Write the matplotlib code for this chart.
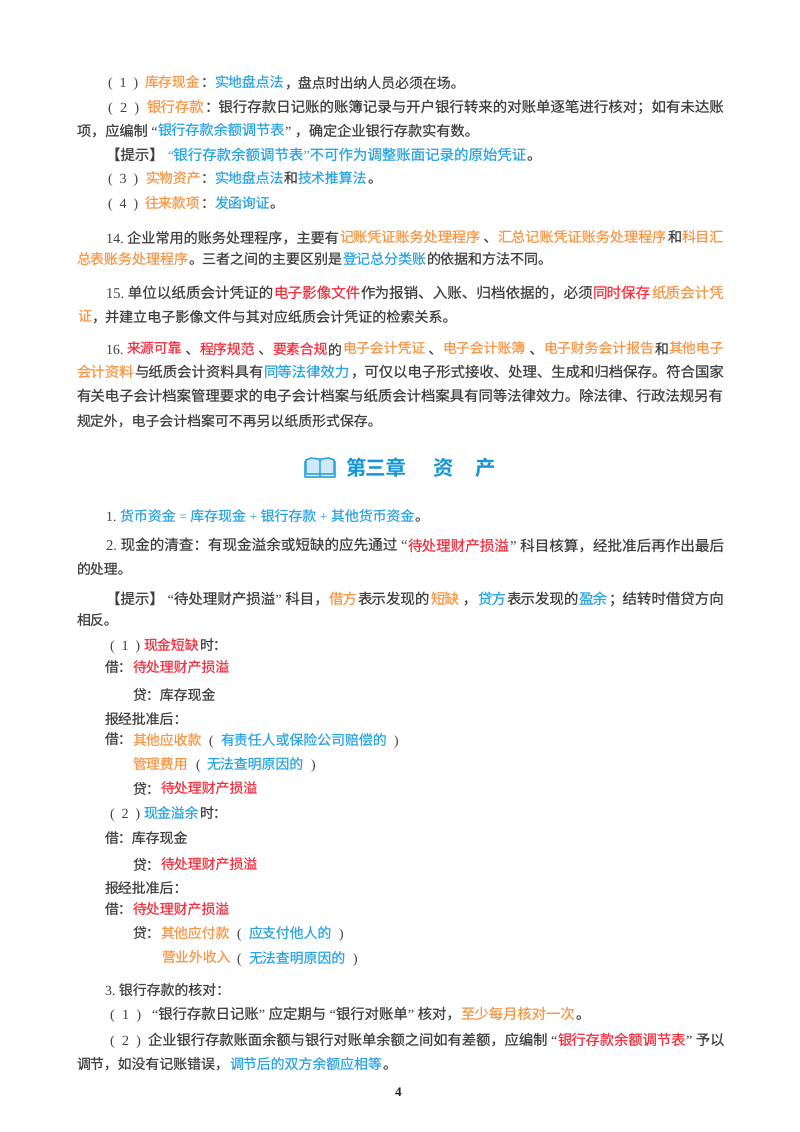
import re
import matplotlib
matplotlib.use("Agg")
import matplotlib.pyplot as plt
from matplotlib.patches import Polygon

plt.rcParams["text.hinting"] = "no_hinting"
plt.rcParams["text.hinting_factor"] = 8

# ---------- page content ----------
body_lines = [
    "(  1  )  [o]库存现金[/]：[b]实地盘点法[/]，盘点时出纳人员必须在场。",
    "(  2  )  [o]银行存款[/]：银行存款日记账的账簿记录与开户银行转来的对账单逐笔进行核对；如有未达账",
    "项，应编制 “[b]银行存款余额调节表[/]” ，确定企业银行存款实有数。",
    "【提示】 [b]“银行存款余额调节表”不可作为调整账面记录的原始凭证[/]。",
    "(  3  )  [o]实物资产[/]：[b]实地盘点法[/]和[b]技术推算法[/]。",
    "(  4  )  [o]往来款项[/]：[b]发函询证[/]。",
    "14. 企业常用的账务处理程序，主要有[o]记账凭证账务处理程序[/] 、[o]汇总记账凭证账务处理程序[/]和[o]科目汇[/]",
    "[o]总表账务处理程序[/]。三者之间的主要区别是[b]登记总分类账[/]的依据和方法不同。",
    "15. 单位以纸质会计凭证的[r]电子影像文件[/]作为报销、入账、归档依据的，必须[r]同时保存[/][o]纸质会计凭[/]",
    "[o]证[/]，并建立电子影像文件与其对应纸质会计凭证的检索关系。",
    "16. [r]来源可靠[/] 、[r]程序规范[/] 、[r]要素合规[/]的[o]电子会计凭证[/] 、[o]电子会计账簿[/] 、[o]电子财务会计报告[/]和[o]其他电子[/]",
    "[o]会计资料[/]与纸质会计资料具有[b]同等法律效力[/]，可仅以电子形式接收、处理、生成和归档保存。符合国家",
    "有关电子会计档案管理要求的电子会计档案与纸质会计档案具有同等法律效力。除法律、行政法规另有",
    "规定外，电子会计档案可不再另以纸质形式保存。",
    "1. [b]货币资金 = 库存现金 + 银行存款 + 其他货币资金[/]。",
    "2. 现金的清查：有现金溢余或短缺的应先通过 “[r]待处理财产损溢[/]” 科目核算，经批准后再作出最后",
    "的处理。",
    "【提示】 “待处理财产损溢” 科目，[o]借方[/]表示发现的[o]短缺[/] ，[b]贷方[/]表示发现的[b]盈余[/]；结转时借贷方向",
    "相反。",
    "(  1  ) [r]现金短缺[/]时：",
    "借：[r]待处理财产损溢[/]",
    "贷：库存现金",
    "报经批准后：",
    "借：[o]其他应收款[/]  (  [b]有责任人或保险公司赔偿的[/]  )",
    "[o]管理费用[/]  (  [b]无法查明原因的[/]  )",
    "贷：[r]待处理财产损溢[/]",
    "(  2  ) [b]现金溢余[/]时：",
    "借：库存现金",
    "贷：[r]待处理财产损溢[/]",
    "报经批准后：",
    "借：[r]待处理财产损溢[/]",
    "贷：[o]其他应付款[/]  (  [b]应支付他人的[/]  )",
    "[o]营业外收入[/]  (  [b]无法查明原因的[/]  )",
    "3. 银行存款的核对：",
    "(  1  )   “银行存款日记账” 应定期与 “银行对账单” 核对，[o]至少每月核对一次[/]。",
    "(  2  )  企业银行存款账面余额与银行对账单余额之间如有差额，应编制 “[r]银行存款余额调节表[/]” 予以",
    "调节，如没有记账错误，[b]调节后的双方余额应相等[/]。",
]
heading_parts = ["第三章", "资", "产"]
page_number = "4"

# ---------- layout (pixels on the page) ----------
line_y = [82, 107, 130, 155, 178, 203, 237, 259, 293, 316, 349, 372, 396, 420,
          516, 546, 569, 599, 621, 645, 668, 695, 720, 740, 764, 789, 813, 838,
          865, 889, 910, 933, 958, 990, 1014, 1040, 1064]
line_x0 = [108, 108, 77, 106, 108, 108, 106, 77, 106, 77, 106, 77, 77, 77,
           106, 106, 77, 106, 77, 110, 105, 133, 105, 105, 133, 133, 110, 105,
           133, 105, 105, 133, 161, 105, 110, 110, 77]
RIGHT = 724
line_x1 = {1: RIGHT, 6: RIGHT, 8: RIGHT, 10: RIGHT, 11: RIGHT, 12: RIGHT,
           15: RIGHT, 17: RIGHT, 35: RIGHT,
           2: 479, 3: 541, 7: 553, 9: 457, 34: 590}
heading_x = [345, 432, 475]
heading_y = 468

COLORS = {"k": "#404040", "o": "#f79646", "b": "#2aa4e2", "r": "#f2303f"}
HEAD_COLOR = "#1596d6"
ICON_EDGE = "#3aa8d8"
ICON_FILL = "#cfeaf6"
FONT = ["Liberation Serif", "Noto Sans CJK SC"]
BASE_PT = 10.0
BASELINE_SHIFT = 5.0
# advance widths in em for the characters served by the serif face; all others are full-width
SERIF_EM = {" ": .25, "(": .333, ")": .333, ".": .25, "“": .444, "”": .444,
            "=": .564, "+": .564}
SERIF_EM.update({d: .5 for d in "0123456789"})

fig = plt.figure(figsize=(8.0, 11.32), dpi=100, facecolor="white")
ax = fig.add_axes([0, 0, 1, 1])
ax.set_xlim(0, 800)
ax.set_ylim(1132, 0)
ax.axis("off")


def parse(markup):
    runs, pos = [], 0
    for m in re.finditer(r"\[([obr])\](.*?)\[/\]", markup):
        if m.start() > pos:
            runs.append((markup[pos:m.start()], "k"))
        runs.append((m.group(2), m.group(1)))
        pos = m.end()
    if pos < len(markup):
        runs.append((markup[pos:], "k"))
    return runs


def advance(s, size):
    return sum(SERIF_EM.get(c, 1.0) for c in s) * size * 100 / 72


for i, (markup, y, x0) in enumerate(zip(body_lines, line_y, line_x0)):
    runs = parse(markup)
    size = BASE_PT
    if i in line_x1:
        size = BASE_PT * (line_x1[i] - x0) / sum(advance(s, BASE_PT) for s, _ in runs)
    x = x0
    for s, key in runs:
        ax.text(x, y + BASELINE_SHIFT, s, family=FONT, fontsize=size,
                color=COLORS[key], va="baseline", ha="left")
        x += advance(s, size)

for s, x in zip(heading_parts, heading_x):
    ax.text(x, heading_y + 7, s, family="Noto Sans CJK SC", fontsize=14.6,
            color=HEAD_COLOR, va="baseline", ha="left", fontweight="bold")

# open-book icon
ax.add_patch(Polygon([(306, 460), (311, 458), (319, 459), (320, 461), (321, 459),
                      (329, 458), (334, 460), (334, 474), (321, 474), (320, 476),
                      (319, 474), (306, 474)],
                     closed=True, facecolor=ICON_FILL, edgecolor=ICON_EDGE, lw=1.3))
ax.plot([320, 320], [461, 474], color=ICON_EDGE, lw=1.2)
ax.plot([305, 305, 335, 335], [462, 477, 477, 462], color=ICON_EDGE, lw=1.3)

ax.text(398, 1096, page_number, family="Liberation Serif", fontsize=9.5,
        fontweight="bold", color="#222222", ha="center", va="baseline")

fig.savefig("out.png", dpi=100, facecolor="white")
